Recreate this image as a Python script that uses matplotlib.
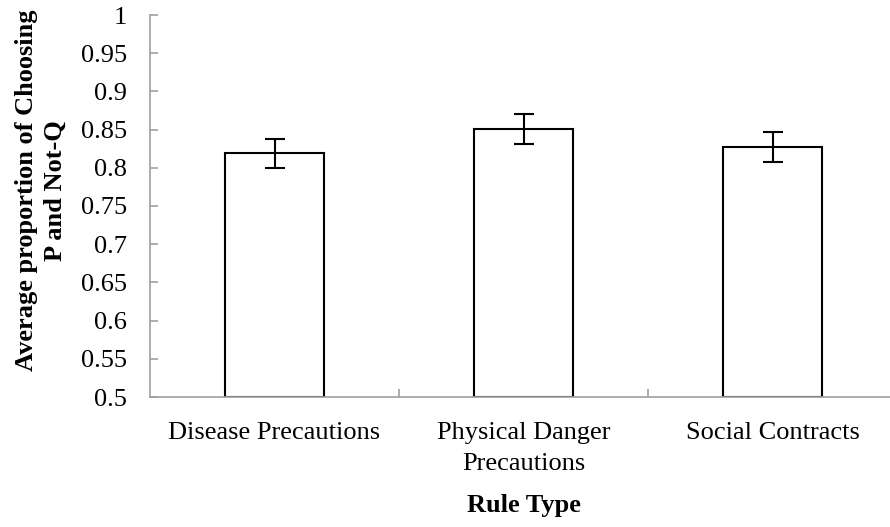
import matplotlib
matplotlib.use("Agg")
import matplotlib.pyplot as plt
import numpy as np

categories = ["Disease Precautions", "Physical Danger\nPrecautions", "Social Contracts"]
means = [0.819, 0.851, 0.827]
errors = [0.019, 0.020, 0.020]
yticks = [0.5, 0.55, 0.6, 0.65, 0.7, 0.75, 0.8, 0.85, 0.9, 0.95, 1.0]
ytick_labels = ["0.5", "0.55", "0.6", "0.65", "0.7", "0.75", "0.8", "0.85", "0.9", "0.95", "1"]

plt.rcParams['font.family'] = ['Liberation Serif', 'DejaVu Serif']
FS = 19

fig = plt.figure(figsize=(8.9, 5.27), dpi=100)
ax = fig.add_axes([150/890, 1-397/527, 747/890, 382/527])

x = np.arange(len(categories))
ax.bar(x, [m - 0.5 for m in means], bottom=0.5, width=0.4, color='white',
       edgecolor='black', linewidth=1.5, zorder=2)
ax.errorbar(x, means, yerr=errors, fmt='none', ecolor='black', elinewidth=1.5,
            capsize=7, capthick=1.5, zorder=3)

ax.set_xlim(-0.5, 2.5)
ax.set_ylim(0.5, 1.0)
ax.set_yticks(yticks)
ax.set_yticklabels(ytick_labels, fontsize=FS)
ax.set_xticks(x)
ax.set_xticklabels(categories, fontsize=FS, linespacing=1.5)
ax.tick_params(axis='x', length=0, pad=18)
ax.set_xticks([0.5, 1.5], minor=True)
ax.tick_params(axis='x', which='minor', direction='in', length=6, color='#a0a0a0', width=1.2)
ax.tick_params(axis='y', direction='in', length=6, color='#a0a0a0', width=1.2, pad=16.5)

for s in ['top', 'right']:
    ax.spines[s].set_visible(False)
for s in ['left', 'bottom']:
    ax.spines[s].set_color('#a0a0a0')
    ax.spines[s].set_linewidth(1.2)

ax.set_xlabel("Rule Type", fontsize=FS, fontweight='bold')
ax.xaxis.set_label_coords(0.5, -0.255)
ax.set_ylabel("Average proportion of Choosing\nP and Not-Q", fontsize=19, fontweight='bold',
              linespacing=1.3)
ax.yaxis.set_label_coords(-0.112, 0.54)

fig.savefig("out.png", dpi=100)
